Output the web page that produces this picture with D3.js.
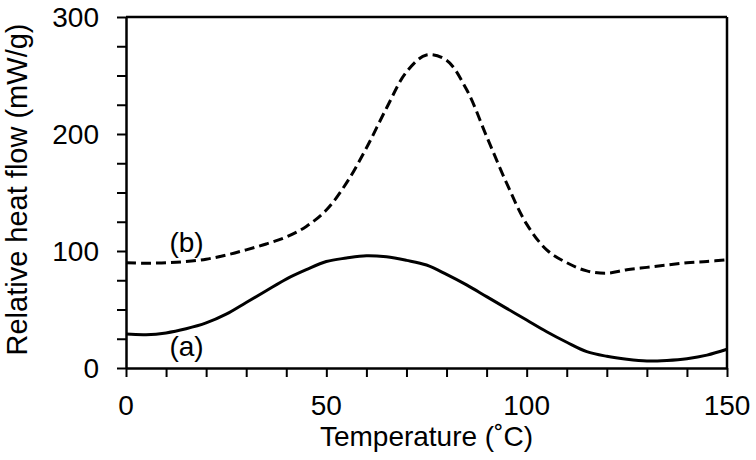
<!DOCTYPE html>
<html>
<head>
<meta charset="utf-8">
<script src="https://cdn.jsdelivr.net/npm/d3@7"></script>
<style>
  html, body { margin: 0; padding: 0; background: #fff; }
  svg { display: block; font-family: "Liberation Sans", Arial, Helvetica, sans-serif; }
</style>
</head>
<body>
<svg id="chart" width="756" height="460"></svg>
<script>
// Temperature (°C) sample points
const temperature = [0, 5, 10, 15, 20, 25, 30, 35, 40, 45, 50, 55, 60, 65, 70, 75, 80, 85, 90, 95, 100, 105, 110, 115, 120, 125, 130, 135, 140, 145, 150];
// Curve (a): solid
const seriesA = [29, 28.5, 30, 33.5, 38.5, 46, 56, 66, 76, 84, 91, 94, 96, 95, 92, 88, 80, 71, 61, 51, 41, 31, 22, 14, 10, 7.5, 6, 6.5, 8, 11, 16];
// Curve (b): dashed
const seriesB = [90, 89.5, 90, 91, 93, 96.5, 101, 106, 112, 121, 135, 158, 188, 222, 253, 267.5, 263, 238, 198, 158, 123, 101, 90, 83, 81, 84, 86, 88, 90, 91, 92.5];
const xTicks = [0, 50, 100, 150];
const yTicks = [0, 100, 200, 300];
const xTitle = "Temperature (˚C)";
const yTitle = "Relative heat flow (mW/g)";
const labelA = "(a)";
const labelB = "(b)";

(function () {
const svg = d3.select("#chart");
const pL = 126, pR = 727, pT = 17, pB = 368;
const x = d3.scaleLinear().domain([0, 150]).range([pL, pR]);
const y = d3.scaleLinear().domain([0, 300]).range([pB, pT]);
const fs = 28;

// box top and right
svg.append("line").attr("x1", pL).attr("x2", pR).attr("y1", pT).attr("y2", pT)
  .attr("stroke", "#000").attr("stroke-width", 2.5);
svg.append("line").attr("x1", pR).attr("x2", pR).attr("y1", pT).attr("y2", pB)
  .attr("stroke", "#000").attr("stroke-width", 2.5);

// x axis
const gx = svg.append("g").attr("transform", `translate(0,${pB})`)
  .call(d3.axisBottom(x).tickValues(d3.range(0, 151, 10)).tickSize(9).tickSizeOuter(0).tickFormat(""));
gx.select(".domain").attr("stroke-width", 2.5);
gx.selectAll(".tick line").attr("stroke-width", 2);
svg.append("g").selectAll("text").data(xTicks).join("text")
  .attr("x", d => x(d)).attr("y", 415)
  .attr("text-anchor", "middle").attr("font-size", fs).text(d => d);

// y axis
const gy = svg.append("g").attr("transform", `translate(${pL},0)`)
  .call(d3.axisLeft(y).tickValues(d3.range(0, 301, 25)).tickSize(9).tickSizeOuter(0).tickFormat(""));
gy.select(".domain").attr("stroke-width", 2.5);
gy.selectAll(".tick line").attr("stroke-width", 2);
svg.append("g").selectAll("text").data(yTicks).join("text")
  .attr("x", 99).attr("y", d => y(d)).attr("dy", "0.36em")
  .attr("text-anchor", "end").attr("font-size", fs).text(d => d);

// titles
svg.append("text").attr("x", (pL + pR) / 2).attr("y", 446)
  .attr("text-anchor", "middle").attr("font-size", fs).text(xTitle);
svg.append("text").attr("transform", `translate(27,${(pT + pB) / 2 - 3}) rotate(-90)`)
  .attr("text-anchor", "middle").attr("font-size", 29).text(yTitle);

// lines
const line = d3.line().x(d => x(d[0])).y(d => y(d[1])).curve(d3.curveCatmullRom.alpha(0.5));
svg.append("path").datum(temperature.map((t, i) => [t, seriesA[i]]))
  .attr("d", line).attr("fill", "none").attr("stroke", "#000").attr("stroke-width", 3);
svg.append("path").datum(temperature.map((t, i) => [t, seriesB[i]]))
  .attr("d", line).attr("fill", "none").attr("stroke", "#000").attr("stroke-width", 3)
  .attr("stroke-dasharray", "10,5");

// labels
svg.append("text").attr("x", x(15.1)).attr("y", y(99)).attr("text-anchor", "middle")
  .attr("font-size", fs).text(labelB);
svg.append("text").attr("x", x(15.1)).attr("y", y(10)).attr("text-anchor", "middle")
  .attr("font-size", fs).text(labelA);
})();
</script>
</body>
</html>
